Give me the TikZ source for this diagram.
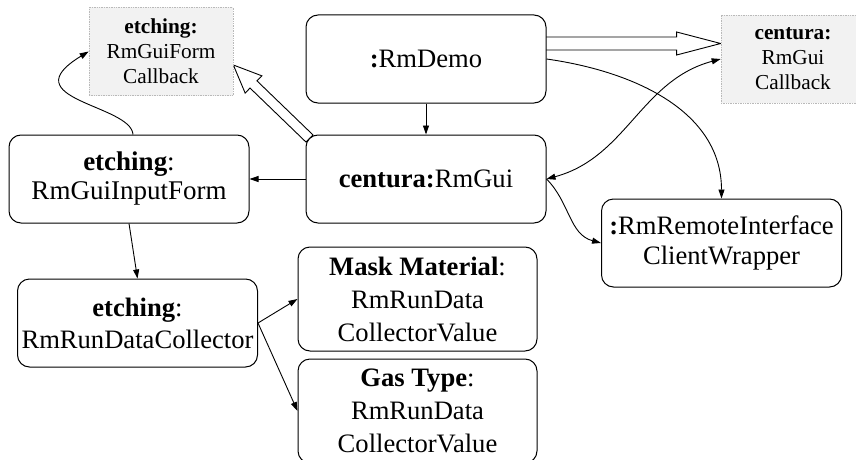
\documentclass[tikz,border=0pt]{standalone}
\usepackage{fontspec}
\setmainfont{Liberation Serif}
\usetikzlibrary{arrows.meta,calc,backgrounds}
\definecolor{cbgray}{RGB}{242,242,242}

% hollow block arrow: tail, tip, shaft half-width, head half-width, head length
\newcommand\fatarrow[5]{%
  \draw[fatline]
    ($(#1)!#3!90:(#2)$) --
    ($(#2)!#5!(#1)!#3!-90:(#1)$) --
    ($(#2)!#5!(#1)!#4!-90:(#1)$) --
    (#2) --
    ($(#2)!#5!(#1)!#4!90:(#1)$) --
    ($(#2)!#5!(#1)!#3!90:(#1)$) --
    ($(#1)!#3!-90:(#2)$) -- cycle;}

\begin{document}
\begin{tikzpicture}[x=1pt,y=1pt,
  obj/.style={draw, line width=1pt, rounded corners=12pt, fill=white,
    minimum width=240pt, minimum height=88pt, inner sep=0pt, align=center,
    font=\fontsize{26.6}{30}\selectfont},
  cbbox/.style={draw=gray!55, densely dotted, line width=0.7pt, fill=cbgray,
    minimum width=144pt, minimum height=88pt, inner sep=0pt, align=center,
    font=\fontsize{21.3}{25}\selectfont},
  conn/.style={line width=0.9pt, -{Triangle[length=9pt,width=6pt]}},
  fatline/.style={draw, fill=white, line width=0.9pt, line join=miter}]

\useasboundingbox (0,0) rectangle (856,-460);
\clip (0,0) rectangle (856,-460);

% objects
\node[obj] (demo) at (426,-59) {\textbf{:}RmDemo};
\node[obj] (rg) at (426,-179) {\textbf{centura:}RmGui};
\node[obj, font=\fontsize{27}{29}\selectfont] (inp) at (129,-179) {\textbf{etching}:\\RmGuiInputForm};
\node[obj] (rem) at (721.5,-243) {\textbf{:}RmRemoteInterface\\ClientWrapper};
\node[obj, font=\fontsize{26.6}{32}\selectfont] (col) at (137.5,-323) {\textbf{etching}:\\RmRunDataCollector};
\node[obj, minimum width=239pt, minimum height=104pt, font=\fontsize{26.6}{33}\selectfont] (mask) at (417.5,-299)
  {\textbf{Mask Material}:\\RmRunData\\CollectorValue};
\node[obj, minimum width=239pt, minimum height=104pt, font=\fontsize{26.6}{33}\selectfont] (gas) at (417.5,-411)
  {\textbf{Gas Type}:\\RmRunData\\CollectorValue};

% callback interfaces
\node[cbbox] (cb1) at (161,-51.5) {\textbf{etching:}\\RmGuiForm\\Callback};
\node[cbbox] (cb2) at (793,-59) {\textbf{centura:}\\RmGui\\Callback};

% plain links
\draw[conn] (demo.south) -- (rg.north);
\draw[conn] (rg.west) -- (inp.east);
\draw[conn] (inp.south) -- (col.north);
\draw[conn] (col.east) -- (mask.west);
\draw[conn] (col.east) -- (gas.west);
\draw[conn] ([xshift=4pt]inp.north) .. controls +(-2,30) and +(-79,-48) .. (cb1.west);
\draw[conn] (demo.east) to[out=-8,in=90] (rem.north);
\draw[conn, {Triangle[length=9pt,width=6pt]}-{Triangle[length=9pt,width=6pt]}]
  (rg.east) to[out=15,in=195] (cb2.west);
\draw[conn] (rg.east) to[out=-45,in=165] (rem.west);

% realisation arrows
\coordinate (h1a) at ($(rg.north west)+(4,-4)$);
\coordinate (h1b) at ($(cb1.east)+(0,-13.5)$);
\coordinate (h2a) at ($(demo.east)+(-4,15.5)$);
\coordinate (h2b) at ($(cb2.west)+(0,15.5)$);
\begin{scope}[on background layer]
  \fill[white] (0,0) rectangle (856,-460);
  \fatarrow{h1a}{h1b}{5pt}{12pt}{28pt}
  \fatarrow{h2a}{h2b}{6.5pt}{11.5pt}{44pt}
\end{scope}
\end{tikzpicture}
\end{document}
